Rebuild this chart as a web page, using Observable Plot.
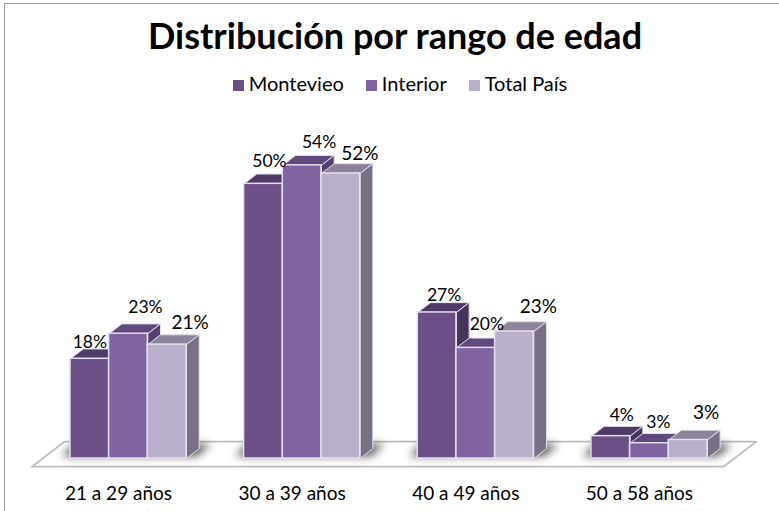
<!DOCTYPE html>
<html lang="es">
<head>
<meta charset="utf-8">
<script src="https://cdn.jsdelivr.net/npm/d3@7"></script>
<script src="https://cdn.jsdelivr.net/npm/@observablehq/plot@0.6"></script>
<style>
html,body{margin:0;padding:0;background:#fff;width:779px;height:511px;overflow:hidden}
#frame{position:absolute;left:4px;top:3px;width:800px;height:520px;border:1px solid #a0a0a0;box-sizing:border-box}
#title{position:absolute;left:0;top:11px;width:790px;text-align:center;font:700 36px Lato,sans-serif;color:#000;line-height:48px}
#legend{position:absolute;left:0;top:69px;width:800px;text-align:center;font:400 20px Lato,sans-serif;color:#000;line-height:28px;white-space:nowrap}
#legend span.item{margin:0 11px}
#legend i{display:inline-block;width:11px;height:11px;margin-right:5px;vertical-align:0}
#chart{position:absolute;left:0;top:100px}
svg{display:block;background:transparent}
</style>
</head>
<body>
<div id="frame"></div>
<div id="title">Distribución por rango de edad</div>
<div id="legend"></div>
<div id="chart"></div>
<script>
const categories = ["21 a 29 años","30 a 39 años","40 a 49 años","50 a 58 años"];
const seriesNames = ["Montevieo","Interior","Total País"];
const montevieo = [18.3,50.4,26.8,4.1];
const interior  = [22.9,53.8,20.3,2.8];
const totalPais = [20.9,52.3,23.3,3.4];
const seriesValues = [montevieo,interior,totalPais];

// Styles
const frontColors = ["#6a5087","#8064a2","#b9afca"];
const topColors   = ["#4f3b67","#604a7b","#8c8299"];
const sideColors  = ["#47345d","#553f70","#7a7085"];
const edgeColor = "#e3dfeb";
// Layout (scale units)
const W = 779, H = 410;
const barW = 0.2227, depthX = 0.0731, depthY = 1.8;
const pxX = 173.67, pxY = 5.45;
// Label nudges in pixels [dx,dy] per series per category
const nudges = [
  [[0,-16],[6,-22],[7,-17],[11,-21]],
  [[17,-26],[17,-23],[11,-23],[9,-21]],
  [[23,-22],[19,-20],[24,-25],[18,-27]]
];
const labelSizes = [17.5,17.5,19];

document.getElementById("legend").innerHTML = seriesNames.map((n,i)=>
  `<span class="item"><i style="background:${frontColors[i]}"></i>${n}</span>`).join("");

const polygon = (pts,id,fill)=>pts.concat([pts[0]]).map(([x,y])=>({x,y,id,fill}));

// Floor
const floor = polygon([[-0.556,-1.5],[3.426,-1.5],[3.616,3.1],[-0.368,3.1]],"floor","#ffffff");

// Shadows
const shadows = categories.flatMap((c,i)=>polygon([
  [i-1.5*barW-0.05,0.4],[i+1.5*barW+0.06,0.4],[i+1.5*barW+0.14,2.6],[i-1.5*barW+0.02,2.6]
],"s"+i,"#3f3f3f"));

const barMarks = [];
const labels = [];
categories.forEach((c,i)=>{
  seriesNames.forEach((s,k)=>{
    const v = seriesValues[k][i];
    const x1 = i + (k-1.5)*barW, x2 = x1+barW;
    const faces = [
      ...polygon([[x1,v],[x2,v],[x2+depthX,v+depthY],[x1+depthX,v+depthY]],"top",topColors[k]),
      ...polygon([[x2,0],[x2,v],[x2+depthX,v+depthY],[x2+depthX,depthY]],"side",sideColors[k])
    ];
    barMarks.push(
      Plot.line(faces,{x:"x",y:"y",z:"id",fill:"fill",stroke:edgeColor,strokeWidth:1,strokeLinejoin:"round"}),
      Plot.rect([{x1,x2,y1:0,y2:v}],{x1:"x1",x2:"x2",y1:"y1",y2:"y2",fill:frontColors[k],stroke:edgeColor,strokeWidth:1.5})
    );
    labels.push({
      x:x1+barW/2+nudges[k][i][0]/pxX,
      y:v-nudges[k][i][1]/pxY,
      text:Math.round(v)+"%",
      size:labelSizes[k]
    });
  });
});

const plot = Plot.plot({
  width:W,height:H,margin:0,
  style:{fontFamily:"Lato,sans-serif",background:"transparent",overflow:"visible"},
  x:{type:"linear",domain:[-0.737,3.749],range:[0,W],axis:null},
  y:{type:"linear",domain:[-9.54,65.69],range:[H,0],axis:null},
  color:{type:"identity"},
  marks:[
    Plot.line(floor,{x:"x",y:"y",fill:"#ffffff",stroke:"#bdbdbd",strokeWidth:1.8}),
    Plot.line(shadows,{x:"x",y:"y",z:"id",fill:"#555555",stroke:"none",imageFilter:"blur(4px)"}),
    ...barMarks,
    ...[...new Set(labelSizes)].map(sz=>Plot.text(labels.filter(d=>d.size===sz),{x:"x",y:"y",text:"text",fontSize:sz,fill:"#000"})),
    Plot.text(categories,{x:(d,i)=>i-0.0576,y:()=>-6.45,text:d=>d,fontSize:19,fill:"#000"})
  ]
});
document.getElementById("chart").appendChild(plot);
</script>
</body>
</html>
